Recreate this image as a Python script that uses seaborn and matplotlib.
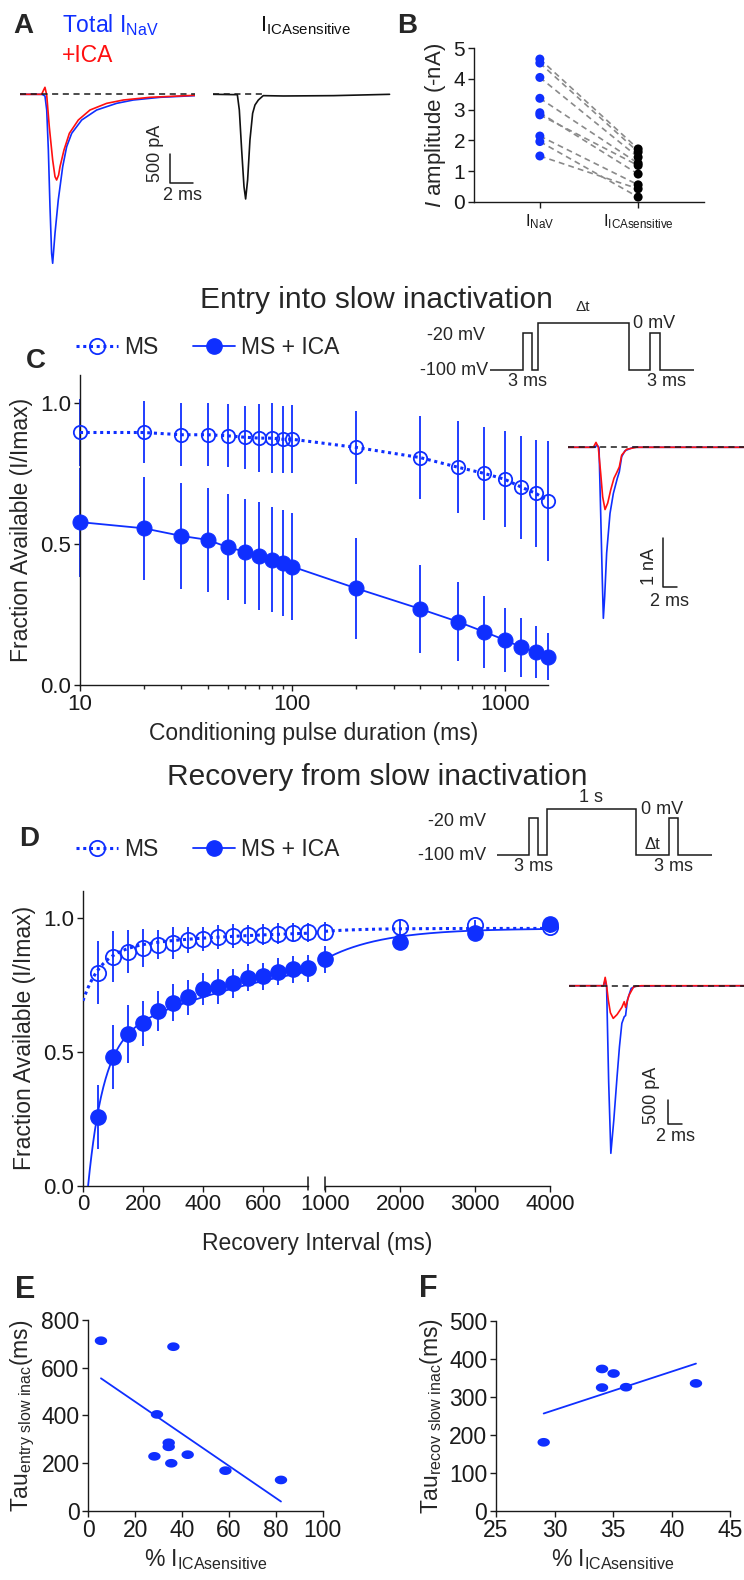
import numpy as np
import seaborn as sns
import matplotlib.pyplot as plt
from matplotlib.lines import Line2D
from matplotlib.path import Path

# ---------------- data ----------------
# A : example currents (time in ms, current in pA)
a_time_total = [0, 1.86, 2.0, 2.14, 2.29, 2.43, 2.57, 2.71, 2.80, 3.0, 3.28, 3.66, 4.0,
                4.43, 5.29, 6.57, 8.28, 9.71, 12.0, 15.0]
a_cur_total = [0, 0, -12, -29, -273, -969, -1955, -2767, -2940, -2419, -1839, -1259, -911,
               -679, -447, -273, -157, -99, -52, -23]
a_time_ica = [0, 1.86, 2.0, 2.14, 2.29, 2.51, 2.80, 3.0, 3.14, 3.31, 3.43, 3.77, 4.23,
              5.0, 6.0, 7.43, 8.86, 11.14, 15.0]
a_cur_ica = [0, 0, 64, 122, -12, -563, -1143, -1433, -1491, -1404, -1259, -969, -679,
             -447, -273, -157, -99, -52, -17]
a_time_sens = [0, 2.06, 2.23, 2.43, 2.63, 2.77, 2.94, 3.14, 3.37, 3.57, 3.86, 4.28, 6.0, 10.3, 15.1]
a_cur_sens = [0, -6, -273, -969, -1607, -1821, -1491, -795, -331, -186, -99, -23, -29, -23, 0]

# B : peak amplitudes (-nA)
b_nav = [4.65, 4.52, 4.05, 3.37, 2.90, 2.83, 2.14, 1.96, 1.49]
b_sens = [1.72, 1.62, 1.45, 1.25, 0.90, 1.18, 0.55, 0.15, 0.42]
b_labels = [r'I$_{\mathrm{NaV}}$', r'I$_{\mathrm{ICAsensitive}}$']

# C : entry into slow inactivation
c_dur = [10, 20, 30, 40, 50, 60, 70, 80, 90, 100, 200, 400, 600, 800, 1000, 1200, 1400, 1600]
c_ms = [0.896, 0.896, 0.888, 0.888, 0.884, 0.879, 0.876, 0.876, 0.872, 0.872, 0.843,
        0.807, 0.773, 0.751, 0.730, 0.702, 0.680, 0.654]
c_ms_err = [0.12, 0.11, 0.112, 0.112, 0.112, 0.112, 0.121, 0.123, 0.118, 0.12, 0.128,
            0.147, 0.163, 0.166, 0.17, 0.183, 0.19, 0.213]
c_ica = [0.578, 0.556, 0.529, 0.515, 0.488, 0.473, 0.458, 0.444, 0.434, 0.420, 0.343,
         0.270, 0.225, 0.189, 0.160, 0.134, 0.118, 0.101]
c_ica_err = [0.193, 0.183, 0.188, 0.185, 0.188, 0.186, 0.192, 0.186, 0.188, 0.19, 0.178,
             0.156, 0.139, 0.127, 0.113, 0.104, 0.092, 0.082]

# C inset currents (ms, nA)
ci_time_total = [0, 3.9, 4.1, 4.43, 4.67, 4.9, 5.05, 5.24, 5.52, 6.0, 6.48, 7.05, 7.33, 7.67, 8.14, 9.33, 25.1]
ci_cur_total = [0, 0, 0.05, 0, -1.35, -2.71, -3.49, -3.05, -2.16, -1.35, -0.94, -0.63, -0.50, -0.19, -0.07, 0, 0]
ci_time_ica = [0, 3.62, 4.0, 4.33, 4.67, 4.95, 5.29, 5.67, 6.1, 6.57, 6.95, 7.33, 7.67, 8.38, 9.8, 25.1]
ci_cur_ica = [0, 0, 0.10, 0, -0.53, -1.01, -1.27, -1.14, -0.87, -0.63, -0.52, -0.40, -0.16, -0.04, 0, 0]

# D : recovery from slow inactivation
d_int = [50, 100, 150, 200, 250, 300, 350, 400, 450, 500, 550, 600, 650, 700, 750,
         1000, 2000, 3000, 4000]
d_ms = [0.795, 0.855, 0.873, 0.886, 0.900, 0.907, 0.917, 0.919, 0.927, 0.932, 0.934,
        0.937, 0.941, 0.944, 0.945, 0.948, 0.966, 0.973, 0.964]
d_ms_err = [0.118, 0.096, 0.08, 0.07, 0.055, 0.06, 0.05, 0.045, 0.045, 0.045, 0.04,
            0.04, 0.04, 0.035, 0.035, 0.035, 0.025, 0.02, 0.02]
d_ica = [0.257, 0.481, 0.566, 0.606, 0.652, 0.683, 0.703, 0.734, 0.743, 0.755, 0.776,
         0.782, 0.798, 0.808, 0.811, 0.845, 0.910, 0.944, 0.976]
d_ica_err = [0.12, 0.12, 0.11, 0.085, 0.075, 0.07, 0.065, 0.06, 0.065, 0.055, 0.05,
             0.05, 0.05, 0.05, 0.05, 0.05, 0.03, 0.025, 0.025]
# bi-exponential fits drawn through the recovery data
ms_fit = dict(a=0.96, a1=0.19, tau1=60.0, a2=0.08, tau2=500.0)
ica_fit = dict(a=0.96, a1=0.75, tau1=50.0, a2=0.436, tau2=750.0)

# D inset currents (ms, pA)
di_time_total = [0, 5.0, 5.24, 5.45, 5.75, 6.07, 6.5, 6.98, 7.33, 7.68, 8.03, 8.23, 8.5, 9.05, 9.75, 25.7]
di_cur_total = [0, 0, 120, -30, -2000, -3486, -2800, -1893, -1270, -783, -645, -620, -295, -55, -7, 0]
di_time_ica = [0, 5.0, 5.24, 5.45, 5.7, 6.0, 6.42, 6.98, 7.68, 8.03, 8.23, 8.72, 9.42, 10.5, 25.7]
di_cur_ica = [0, 0, 174, 0, -300, -560, -679, -600, -450, -332, -450, -200, -20, 0, 0]

# voltage protocols (schematic segment widths, mV)
c_proto_dur = [33, 8.5, 6, 91.5, 21, 9.5, 34]
d_proto_dur = [31.7, 8.6, 9, 89.2, 33.2, 8.6, 34.1]
proto_mv = [-100, -20, -100, 0, -100, -20, -100]

# E / F : correlations
e_pct = [5.4, 36.3, 29.3, 34.3, 34.3, 28.2, 35.4, 42.4, 58.5, 82.2]
e_tau = [713, 688, 404, 285, 268, 228, 199, 235, 168, 129]
f_pct = [29.07, 34.05, 35.04, 34.05, 36.1, 42.07]
f_tau = [180, 373, 361, 324, 325, 335]

# ---------------- style ----------------
BLUE = '#0f2fff'
RED = '#ff1010'
W, H = 744, 1580

sns.set_theme(style='ticks')
plt.rcParams['font.family'] = ['Liberation Sans', 'DejaVu Sans']
plt.rcParams['mathtext.fontset'] = 'custom'
plt.rcParams['mathtext.rm'] = 'Liberation Sans'
plt.rcParams['mathtext.it'] = 'Liberation Sans:italic'
plt.rcParams['mathtext.bf'] = 'Liberation Sans:bold'
plt.rcParams['axes.linewidth'] = 1.0
plt.rcParams['axes.edgecolor'] = '#1a1a1a'

fig = plt.figure(figsize=(W / 100, H / 100), dpi=100)


def px_axes(left, top, right, bottom):
    return fig.add_axes([left / W, 1 - bottom / H, (right - left) / W, (bottom - top) / H])


def px_text(x, y, s, **kw):
    return fig.text(x / W, 1 - y / H, s, **kw)


def style_axes(ax, fs):
    sns.despine(ax=ax)
    ax.tick_params(direction='out', length=4.3, width=1.0, labelsize=fs, pad=2,
                   color='#1a1a1a', labelcolor='#1a1a1a')


def trace(ax, t, i, color, lw=1.2):
    sns.lineplot(x=t, y=i, ax=ax, color=color, lw=lw, sort=False, estimator=None)


def scale_bar(ax, t0, i0, di, dt, vlabel, hlabel, vtext, htext):
    ax.plot([t0, t0, t0 + dt], [i0 + di, i0, i0], color='k', lw=1.1, clip_on=False)
    ax.text(vtext[0], vtext[1], vlabel, rotation=90, ha='right', va='center', fontsize=13)
    ax.text(htext[0], htext[1], hlabel, ha='center', va='top', fontsize=13)


def protocol(ax, dur, mv, labels):
    edges = np.concatenate([[0], np.cumsum(dur)])
    ax.stairs(mv, edges, baseline=None, color='#1a1a1a', lw=1.1)
    ax.set_xlim(0, edges[-1])
    ax.set_ylim(-110, 10)
    ax.axis('off')
    for s, xy, off, ha, va, fs in labels:
        ax.annotate(s, xy=xy, xytext=off, textcoords='offset points', ha=ha, va=va,
                    fontsize=fs, annotation_clip=False)
    return edges


# ---------------- panel A ----------------
ax_a1 = px_axes(20, 85.7, 195, 269.6)
trace(ax_a1, a_time_total, a_cur_total, BLUE)
trace(ax_a1, a_time_ica, a_cur_ica, RED)
ax_a1.axhline(0, color='k', ls=(0, (4, 3)), lw=1.1)
ax_a1.set_xlim(0, 15)
ax_a1.set_ylim(-3050, 150)
ax_a1.axis('off')
scale_bar(ax_a1, 12.86, -1538, 500, 2, '500 pA', '2 ms', (12.3, -1021), (13.9, -1612))

ax_a2 = px_axes(213.3, 85.7, 390.7, 269.6)
trace(ax_a2, a_time_sens, a_cur_sens, '#111111')
ax_a2.set_xlim(0, 15.2)
ax_a2.set_ylim(-3050, 150)
ax_a2.axhline(0, xmax=4.3 / 15.2, color='k', ls=(0, (4, 3)), lw=1.1)
ax_a2.axis('off')

px_text(62, 31.7, r'Total I$_{\mathrm{NaV}}$', color=BLUE, fontsize=16.5, va='baseline')
px_text(62, 61.7, '+ICA', color=RED, fontsize=16.5, va='baseline')
px_text(260, 31.7, r'I$_{\mathrm{ICAsensitive}}$', color='#111111', fontsize=15.5, va='baseline')

# ---------------- panel B ----------------
ax_b = px_axes(474, 48.3, 704, 201.7)
for n, s in zip(b_nav, b_sens):
    ax_b.plot([0, 1], [n, s], ls=(0, (3.5, 2.5)), color='#8a8a8a', lw=1.2, zorder=1)
sns.scatterplot(x=np.zeros(len(b_nav)), y=b_nav, ax=ax_b, color=BLUE, s=42,
                edgecolor='none', zorder=3, clip_on=False)
sns.scatterplot(x=np.ones(len(b_sens)), y=b_sens, ax=ax_b, color='black', s=42,
                edgecolor='none', zorder=3, clip_on=False)
ax_b.set_xlim(-0.67, 1.67)
ax_b.set_ylim(0, 5)
style_axes(ax_b, 15)
ax_b.set_xticks([0, 1], labels=b_labels)
ax_b.tick_params(axis='x', labelsize=12, pad=3)
ax_b.set_yticks(range(6))
ax_b.set_ylabel(r'$I$ amplitude (-nA)', fontsize=16, labelpad=4)

# ---------------- panel C ----------------
px_text(376, 308, 'Entry into slow inactivation', ha='center', va='baseline', fontsize=21.5)

ax_c = px_axes(80, 375, 548, 685)
ax_c.set_xscale('log')
ax_c.errorbar(c_dur, c_ms, yerr=c_ms_err, fmt='none', ecolor=BLUE, elinewidth=1.3,
              capsize=0, clip_on=False, zorder=2)
ax_c.errorbar(c_dur, c_ica, yerr=c_ica_err, fmt='none', ecolor=BLUE, elinewidth=1.3,
              capsize=0, clip_on=False, zorder=2)
sns.lineplot(x=c_dur, y=c_ms, ax=ax_c, color=BLUE, lw=2.2, linestyle=(0, (1, 1.2)),
             marker='o', markersize=9.6, markerfacecolor='none', markeredgecolor=BLUE,
             markeredgewidth=1.3, clip_on=False, zorder=3)
sns.lineplot(x=c_dur, y=c_ica, ax=ax_c, color=BLUE, lw=1.3, marker='o', markersize=10.8,
             markeredgecolor=BLUE, clip_on=False, zorder=3)
ax_c.set_xlim(10, 1600)
ax_c.set_ylim(0, 1.1)
style_axes(ax_c, 16)
ax_c.tick_params(which='minor', length=2.8, width=1.0)
ax_c.set_xticks([10, 100, 1000], labels=['10', '100', '1000'])
ax_c.set_yticks([0, 0.5, 1.0], labels=['0.0', '0.5', '1.0'])
ax_c.set_xlabel('Conditioning pulse duration (ms)', fontsize=16.5, labelpad=5)
ax_c.set_ylabel('Fraction Available (I/Imax)', fontsize=16.5, labelpad=5)

legend_handles = [
    Line2D([0], [0], color=BLUE, ls=(0, (1, 1.2)), lw=2.2, marker='o', ms=11,
           mfc='none', mec=BLUE, mew=1.3),
    Line2D([0], [0], color=BLUE, lw=1.3, marker='o', ms=11, mec=BLUE),
]


def add_legend(ax, y):
    ax.legend(legend_handles, ['MS', 'MS + ICA'], loc='center left',
              bbox_to_anchor=(76 / W, 1 - y / H), bbox_transform=fig.transFigure,
              ncol=2, frameon=False, fontsize=16.5, handlelength=1.85,
              handletextpad=0.25, columnspacing=1.5, borderpad=0, borderaxespad=0)


add_legend(ax_c, 348)

ax_ci = px_axes(568, 435.05, 743.7, 623.7)
trace(ax_ci, ci_time_total, ci_cur_total, BLUE)
trace(ax_ci, ci_time_ica, ci_cur_ica, RED)
ax_ci.axhline(0, color='k', ls=(0, (4, 3)), lw=1.1)
ax_ci.set_xlim(0, 25.1)
ax_ci.set_ylim(-3.6, 0.25)
ax_ci.axis('off')
scale_bar(ax_ci, 13.53, -2.857, 1, 2, '1 nA', '2 ms', (12.86, -2.43), (14.57, -2.97))

ax_cp = px_axes(490, 318.6, 693.5, 374.7)
ce = np.concatenate([[0], np.cumsum(c_proto_dur)])
protocol(ax_cp, c_proto_dur, proto_mv, [
    ('-20 mV', (0, -20), (-3.6, -2), 'right', 'center', 13),
    ('-100 mV', (0, -100), (-1.2, 0), 'right', 'center', 13),
    ('0 mV', (ce[4], 0), (2.7, 0), 'left', 'center', 13),
    ('\u0394t', ((ce[3] + ce[4]) / 2, 0), (0, 7), 'center', 'bottom', 11),
    ('3 ms', ((ce[1] + ce[2]) / 2, -100), (0, -2.5), 'center', 'top', 13),
    ('3 ms', ((ce[5] + ce[6]) / 2, -100), (8.5, -2.5), 'center', 'top', 13),
])

# ---------------- panel D ----------------
px_text(377, 785, 'Recovery from slow inactivation', ha='center', va='baseline', fontsize=21.5)


def biexp(t, a, a1, tau1, a2, tau2):
    return a - a1 * np.exp(-t / tau1) - a2 * np.exp(-t / tau2)


d_x = np.array(d_int)
ax_dl = px_axes(83, 890.9, 308.4, 1185.7)
ax_dr = px_axes(325, 890.9, 550.4, 1185.7)
for ax, (lo, hi) in [(ax_dl, (0, 750)), (ax_dr, (1000, 4000))]:
    sel = (d_x >= lo) & (d_x <= hi)
    xs = d_x[sel]
    ax.errorbar(xs, np.array(d_ms)[sel], yerr=np.array(d_ms_err)[sel], fmt='none',
                ecolor=BLUE, elinewidth=1.3, capsize=0, clip_on=False, zorder=2)
    ax.errorbar(xs, np.array(d_ica)[sel], yerr=np.array(d_ica_err)[sel], fmt='none',
                ecolor=BLUE, elinewidth=1.3, capsize=0, clip_on=False, zorder=2)
    tt = np.linspace(lo, hi, 400)
    sns.lineplot(x=tt, y=biexp(tt, **ms_fit), ax=ax, color=BLUE, lw=2.2,
                 linestyle=(0, (1, 1.2)), zorder=3)
    sns.lineplot(x=tt, y=biexp(tt, **ica_fit), ax=ax, color=BLUE, lw=1.3, zorder=3)
    ax.plot(xs, np.array(d_ms)[sel], 'o', ms=11, mfc='none', mec=BLUE, mew=1.3,
            clip_on=False, zorder=4)
    ax.plot(xs, np.array(d_ica)[sel], 'o', ms=11, color=BLUE, clip_on=False, zorder=4)
    ax.set_xlim(lo, hi)
    ax.set_ylim(0, 1.1)
    style_axes(ax, 16)

ax_dl.set_xticks([0, 200, 400, 600])
ax_dl.set_yticks([0, 0.5, 1.0], labels=['0.0', '0.5', '1.0'])
ax_dl.set_ylabel('Fraction Available (I/Imax)', fontsize=16.5, labelpad=5)
ax_dr.set_xticks([1000, 2000, 3000, 4000])
ax_dr.spines['left'].set_visible(False)
ax_dr.tick_params(axis='y', left=False, labelleft=False)
# axis break marks
ax_dl.plot([1, 1], [-0.014, 0.03], transform=ax_dl.transAxes, color='#1a1a1a', lw=1.1, clip_on=False)
ax_dr.plot([0, 0], [-0.014, 0.03], transform=ax_dr.transAxes, color='#1a1a1a', lw=1.1, clip_on=False)
px_text(317, 1232, 'Recovery Interval (ms)', ha='center', va='top', fontsize=16.5)

add_legend(ax_dl, 850)

ax_di = px_axes(569.4, 973.7, 744.2, 1158.8)
trace(ax_di, di_time_total, di_cur_total, BLUE)
trace(ax_di, di_time_ica, di_cur_ica, RED)
ax_di.axhline(0, color='k', ls=(0, (4, 3)), lw=1.1)
ax_di.set_xlim(0, 25.6)
ax_di.set_ylim(-3600, 250)
ax_di.axis('off')
scale_bar(ax_di, 14.5, -2877, 500, 2, '500 pA', '2 ms', (13.3, -2273), (15.5, -2960))

ax_dp = px_axes(497.3, 804.7, 711.7, 859.6)
de = np.concatenate([[0], np.cumsum(d_proto_dur)])
protocol(ax_dp, d_proto_dur, proto_mv, [
    ('-20 mV', (0, -20), (-8, -2), 'right', 'center', 13),
    ('-100 mV', (0, -100), (-8, 0), 'right', 'center', 13),
    ('0 mV', (de[4], 0), (3.5, 0), 'left', 'center', 13),
    ('1 s', ((de[3] + de[4]) / 2, 0), (0, 2), 'center', 'bottom', 13),
    ('\u0394t', ((de[4] + de[5]) / 2, -100), (0, 2), 'center', 'bottom', 12),
    ('3 ms', ((de[1] + de[2]) / 2, -100), (0, -2.5), 'center', 'top', 13),
    ('3 ms', ((de[5] + de[6]) / 2, -100), (0, -2.5), 'center', 'top', 13),
])

# ---------------- panels E / F ----------------
th = np.linspace(0, 2 * np.pi, 41)
ellipse = Path(np.column_stack([np.cos(th), 0.7 * np.sin(th)]))

ax_e = px_axes(88.3, 1320, 322.7, 1510.7)
sns.regplot(x=e_pct, y=e_tau, ax=ax_e, ci=None, marker=ellipse, color=BLUE,
            scatter_kws={'s': 80, 'edgecolors': 'none', 'alpha': 1, 'clip_on': False},
            line_kws={'lw': 1.3})
ax_e.set_xlim(0, 100)
ax_e.set_ylim(0, 800)
style_axes(ax_e, 16.5)
ax_e.set_xticks(range(0, 101, 20))
ax_e.set_yticks(range(0, 801, 200))
ax_e.set_xlabel(r'% I$_{\mathrm{ICAsensitive}}$', fontsize=16.5, labelpad=3)
ax_e.set_ylabel(r'Tau$_{\mathrm{entry\ slow\ inac}}$(ms)', fontsize=16.5, labelpad=3)

ax_f = px_axes(496, 1320.7, 730.3, 1510.7)
sns.regplot(x=f_pct, y=f_tau, ax=ax_f, ci=None, marker=ellipse, color=BLUE,
            scatter_kws={'s': 80, 'edgecolors': 'none', 'alpha': 1, 'clip_on': False},
            line_kws={'lw': 1.3})
ax_f.set_xlim(25, 45)
ax_f.set_ylim(0, 500)
style_axes(ax_f, 16.5)
ax_f.set_xticks(range(25, 46, 5))
ax_f.set_yticks(range(0, 501, 100))
ax_f.set_xlabel(r'% I$_{\mathrm{ICAsensitive}}$', fontsize=16.5, labelpad=3)
ax_f.set_ylabel(r'Tau$_{\mathrm{recov\ slow\ inac}}$(ms)', fontsize=16.5, labelpad=3)

# ---------------- panel letters ----------------
for letter, x, y, fs in [('A', 13, 33, 20), ('B', 397, 33, 20), ('C', 26, 368, 20),
                         ('D', 19, 846, 20), ('E', 15, 1298, 22), ('F', 419, 1297, 22)]:
    px_text(x, y, letter, fontsize=fs, fontweight='bold', va='baseline')

fig.savefig('out.png', dpi=100)
